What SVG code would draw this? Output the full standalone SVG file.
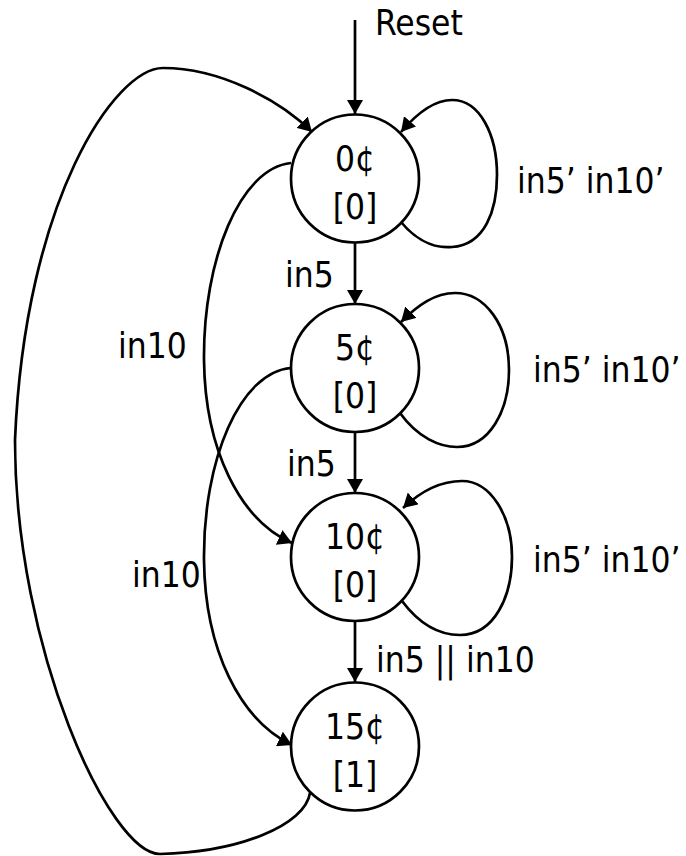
<svg xmlns="http://www.w3.org/2000/svg" width="686" height="856" viewBox="0 0 686 856">
<defs>
<style>
.node circle{fill:#fff;stroke:#000;stroke-width:2.7}
text{font-family:"DejaVu Sans Condensed","DejaVu Sans","Liberation Sans",sans-serif;font-stretch:condensed;font-size:35px;fill:#000}
.nt{text-anchor:middle}
.edge{fill:none;stroke:#000;stroke-width:2.7;marker-end:url(#arr)}
</style>
<marker id="arr" markerUnits="userSpaceOnUse" viewBox="0 0 14 16" markerWidth="14" markerHeight="16" refX="14" refY="8" orient="auto">
<path d="M0,0 L14,8 L0,16 z" fill="#000"/>
</marker>
</defs>
<rect width="686" height="856" fill="#fff"/>
<g id="connectors">
<path class="edge" d="M355,20 L355,114"/>
<path class="edge" d="M355,242 L355,304"/>
<path class="edge" d="M355,431 L355,493"/>
<path class="edge" d="M355,620 L355,682"/>
<path class="edge" d="M401,222 C420,245 440,248 452,247 C485,245 497,210 497,175 C497,135 480,100 452,100 C435,100 418,112 401,132"/>
<path class="edge" d="M400,413 C418,438 440,447 457,447 C490,447 509,410 509,370 C509,325 485,293 455,293 C435,293 418,305 401,322"/>
<path class="edge" d="M402,601 C420,625 440,635 460,635 C495,635 512,595 512,557 C512,515 490,481 462,481 C440,481 420,492 403,508"/>
<path class="edge" d="M291,163 C240,168 203,260 204,360 C205,450 240,520 292,543"/>
<path class="edge" d="M291,368 C240,372 203,460 204,560 C205,650 240,720 292,745"/>
<path class="edge" d="M310,793 C305,825 240,852 160,854 C110,854 15,650 15,440 C25,200 115,68 163,68 C220,68 280,100 312,132"/>
</g>
<g id="labels">
<text x="375" y="35">Reset</text>
<text x="517" y="193">in5’ in10’</text>
<text x="533" y="382">in5’ in10’</text>
<text x="533" y="572">in5’ in10’</text>
<text x="376" y="672">in5 || in10</text>
<text x="285" y="287">in5</text>
<text x="287" y="476">in5</text>
<text x="118" y="358">in10</text>
<text x="132" y="587">in10</text>
</g>
<g id="s0" class="node"><circle cx="355" cy="178.5" r="64"/><text class="nt" x="355" y="171">0¢</text><text class="nt" x="355" y="219">[0]</text></g>
<g id="s5" class="node"><circle cx="355" cy="368" r="64"/><text class="nt" x="355" y="360">5¢</text><text class="nt" x="355" y="408">[0]</text></g>
<g id="s10" class="node"><circle cx="355" cy="557" r="64"/><text class="nt" x="355" y="549">10¢</text><text class="nt" x="355" y="597">[0]</text></g>
<g id="s15" class="node"><circle cx="355" cy="746.5" r="64"/><text class="nt" x="355" y="739">15¢</text><text class="nt" x="355" y="787">[1]</text></g>
</svg>
